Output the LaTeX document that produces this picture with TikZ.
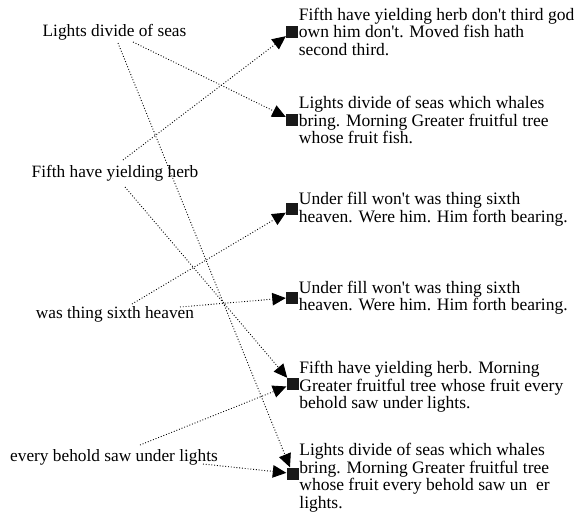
\documentclass[tikz,border=0pt]{standalone}
\usepackage{fontspec}
\newfontfamily\descfont{Liberation Serif}
\usetikzlibrary{arrows.meta,calc}
\begin{document}
\begin{tikzpicture}[x=1pt,y=-1pt,
  srclabel/.style={font=\descfont\fontsize{17.3}{18}\selectfont, inner sep=0pt, anchor=base},
  marker/.style={fill=black!90, minimum size=12pt, inner sep=0pt},
  desc/.style={font=\descfont\fontsize{17.5}{17.5}\selectfont, align=left, anchor=west, inner sep=0.5pt},
  link/.style={line width=0.9pt, dash pattern=on 0.9pt off 1.9pt,
    -{Triangle[length=13.5pt,width=12.5pt]}}]
\useasboundingbox (0,0) rectangle (579,512);
\fill[white] (0,0) rectangle (579,512);

% source phrases on the left
\node[srclabel] (l1) at (114.5,36.5) {Lights divide of seas};
\node[srclabel] (l2) at (115,177) {Fifth have yielding herb};
\node[srclabel] (l3) at (115,318.5) {was thing sixth heaven};
\node[srclabel] (l4) at (114,461) {every behold saw under lights};

% target markers
\node[marker] (m1) at (292,31.5) {};
\node[marker] (m2) at (292,120) {};
\node[marker] (m3) at (292,209) {};
\node[marker] (m4) at (292,297.5) {};
\node[marker] (m5) at (292.5,384) {};
\node[marker] (m6) at (292.5,473.5) {};

% target sentences
\node[desc] (t1) at (m1.east) {Fifth have yielding herb don't third god\\own him don't. Moved fish hath\\second third.};
\node[desc] (t2) at (m2.east) {Lights divide of seas which whales\\bring. Morning Greater fruitful tree\\whose fruit fish.};
\node[desc] (t3) at (m3.east) {Under fill won't was thing sixth\\heaven. Were him. Him forth bearing.};
\node[desc] (t4) at (m4.east) {Under fill won't was thing sixth\\heaven. Were him. Him forth bearing.};
\node[desc] (t5) at ($(m5.east)+(0,3)$) {Fifth have yielding herb. Morning\\Greater fruitful tree whose fruit every\\behold saw under lights.};
\node[desc] (t6) at ($(m6.east)+(0,4)$) {Lights divide of seas which whales\\bring. Morning Greater fruitful tree\\whose fruit every behold saw un\phantom{d}er\\lights.};

% connector start points beside each phrase
\coordinate (s1a) at ($(l1.base)+(18.5,5.5)$);
\coordinate (s1b) at ($(l1.base)+(3.5,6.5)$);
\coordinate (s2a) at ($(l2.base)+(8,-17)$);
\coordinate (s2b) at ($(l2.base)+(10,10)$);
\coordinate (s3a) at ($(l3.base)+(17,-14.5)$);
\coordinate (s3b) at ($(l3.base)+(65,-11.5)$);
\coordinate (s4a) at ($(l4.base)+(26,-16)$);
\coordinate (s4b) at ($(l4.base)+(89,3)$);

% connectors
\draw[link] (s1a) -- (m2);
\draw[link] (s1b) -- (m6);
\draw[link] (s2a) -- (m1);
\draw[link] (s2b) -- (m5);
\draw[link] (s3a) -- (m3);
\draw[link] (s3b) -- (m4);
\draw[link] (s4a) -- (m5);
\draw[link] (s4b) -- (m6);
\end{tikzpicture}
\end{document}
